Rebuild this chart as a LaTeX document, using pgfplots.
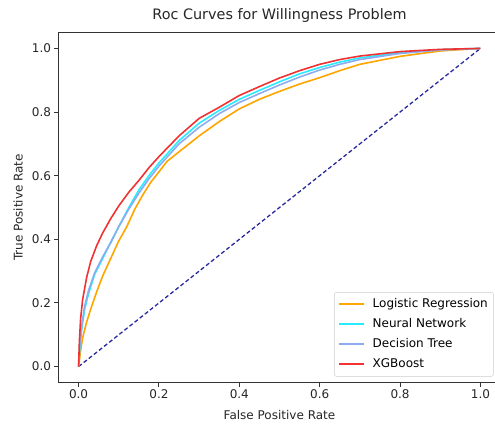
\documentclass[border=0pt]{standalone}
\usepackage{fontspec}
\setmainfont{DejaVu Sans}
\usepackage{pgfplots}
\pgfplotsset{compat=1.18}

\definecolor{lrorange}{RGB}{255,165,0}
\definecolor{nncyan}{RGB}{40,235,255}
\definecolor{dtblue}{RGB}{140,172,240}
\definecolor{xgred}{RGB}{240,50,50}
\definecolor{diagnavy}{RGB}{40,40,160}

\begin{document}
\begin{tikzpicture}
\begin{axis}[
    at={(58.5pt,40.5pt)}, anchor=south west,
    scale only axis,
    width=442pt, height=350pt,
    xmin=-0.05, xmax=1.05,
    ymin=-0.05, ymax=1.05,
    xtick={0,0.2,0.4,0.6,0.8,1.0},
    ytick={0,0.2,0.4,0.6,0.8,1.0},
    axis lines=box,
    xtick pos=bottom, ytick pos=left,
    tick align=outside,
    major tick length=4pt,
    axis line style={black!80, line width=1pt},
    every tick/.style={black!80, line width=1pt},
    /pgf/number format/assume math mode=true,
    xticklabel style={font=\fontsize{12}{14}\selectfont, color=black!85,
        /pgf/number format/.cd, fixed, fixed zerofill, precision=1},
    yticklabel style={font=\fontsize{12}{14}\selectfont, color=black!85,
        /pgf/number format/.cd, fixed, fixed zerofill, precision=1},
    title={Roc Curves for Willingness Problem},
    title style={font=\fontsize{14.4}{16}\selectfont, color=black!85,
        at={(axis description cs:0.5,1.02)}, anchor=base},
    xlabel={False Positive Rate},
    ylabel={True Positive Rate},
    xlabel style={font=\fontsize{12}{14}\selectfont, color=black!85,
        at={(axis description cs:0.5,-0.1057)}, anchor=base},
    ylabel style={font=\fontsize{12}{14}\selectfont, color=black!85,
        at={(axis description cs:-0.0814,0.5)}, anchor=base},
    legend cell align=left,
    legend style={at={(axis description cs:0.9842,0.0171)}, anchor=south east,
        font=\fontsize{12}{14}\selectfont, draw=black!20, rounded corners=2pt,
        row sep=4pt, inner xsep=3.5pt, inner ysep=4pt,
        nodes={inner sep=2pt, text height=9pt, text depth=3pt}},
    legend image code/.code={\draw[#1, line width=2pt] (0pt,0pt) -- (25pt,0pt);
        \path (31pt,0pt);},
]

\addplot[diagnavy, line width=1.3pt, dash pattern=on 4pt off 2.5pt, forget plot]
    coordinates {(0,0) (1,1)};

\addplot[lrorange, line width=1.6pt] coordinates {
    (0,0)(0.005,0.05)(0.01,0.09)(0.02,0.14)(0.03,0.18)(0.045,0.235)
    (0.06,0.285)(0.08,0.34)(0.1,0.395)(0.12,0.44)(0.14,0.495)(0.16,0.54)
    (0.18,0.58)(0.2,0.612)(0.22,0.645)(0.25,0.675)(0.3,0.725)(0.35,0.77)
    (0.4,0.81)(0.45,0.84)(0.5,0.865)(0.55,0.888)(0.6,0.908)(0.65,0.93)
    (0.7,0.95)(0.8,0.975)(0.9,0.992)(1,1)
};
\addlegendentry{Logistic Regression}

\addplot[nncyan, line width=1.6pt] coordinates {
    (0,0)(0.003,0.06)(0.008,0.12)(0.015,0.18)(0.025,0.23)(0.04,0.29)
    (0.06,0.34)(0.08,0.39)(0.1,0.44)(0.125,0.5)(0.15,0.555)(0.175,0.6)
    (0.2,0.64)(0.25,0.71)(0.3,0.765)(0.35,0.805)(0.4,0.84)(0.45,0.868)
    (0.5,0.895)(0.55,0.92)(0.6,0.94)(0.65,0.957)(0.7,0.97)(0.8,0.987)
    (0.9,0.996)(1,1)
};
\addlegendentry{Neural Network}

\addplot[dtblue, line width=1.6pt] coordinates {
    (0,0)(0.003,0.07)(0.008,0.13)(0.015,0.19)(0.025,0.24)(0.04,0.295)
    (0.06,0.345)(0.08,0.39)(0.1,0.44)(0.125,0.495)(0.15,0.545)(0.175,0.59)
    (0.2,0.63)(0.25,0.7)(0.3,0.752)(0.35,0.795)(0.4,0.83)(0.45,0.858)
    (0.5,0.885)(0.55,0.91)(0.6,0.932)(0.65,0.95)(0.7,0.965)(0.8,0.984)
    (0.9,0.995)(1,1)
};
\addlegendentry{Decision Tree}

\addplot[xgred, line width=1.6pt] coordinates {
    (0,0)(0.002,0.08)(0.005,0.15)(0.01,0.21)(0.02,0.28)(0.03,0.33)
    (0.045,0.38)(0.06,0.42)(0.08,0.465)(0.1,0.505)(0.125,0.548)(0.15,0.585)
    (0.175,0.625)(0.2,0.66)(0.25,0.725)(0.3,0.78)(0.35,0.815)(0.4,0.852)
    (0.45,0.88)(0.5,0.907)(0.55,0.93)(0.6,0.95)(0.65,0.965)(0.7,0.976)
    (0.8,0.99)(0.9,0.997)(1,1)
};
\addlegendentry{XGBoost}

\end{axis}
% top edge of the frame, on a whole pixel row
\draw[black!80, line width=1.2pt] (58.5pt,390.5pt) -- (500.5pt,390.5pt);
\pgfresetboundingbox
\path[use as bounding box] (0,0) rectangle (495pt,423pt);
\end{tikzpicture}
\end{document}
